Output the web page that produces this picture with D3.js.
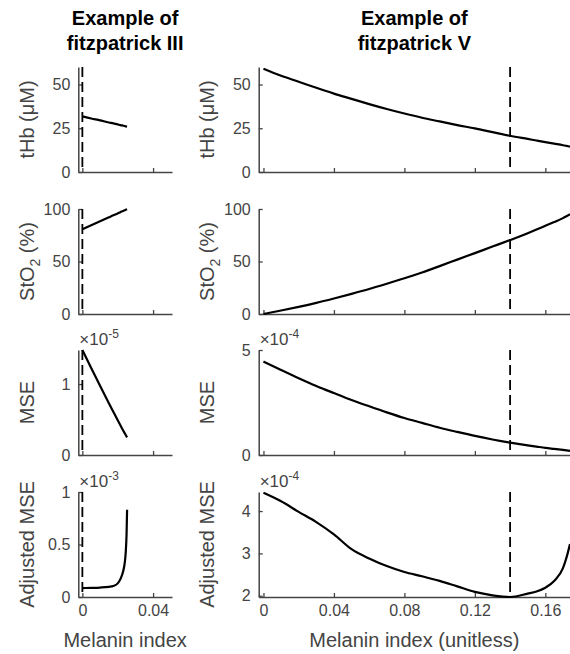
<!DOCTYPE html>
<html>
<head>
<meta charset="utf-8">
<script src="https://cdn.jsdelivr.net/npm/d3@7"></script>
<style>
  body { margin: 0; background: #fff; }
  svg { display: block; }
  text { font-family: "Liberation Sans", Arial, Helvetica, sans-serif; }
</style>
</head>
<body>
<div id="chart"></div>
<script>
// melanin index samples for each example
var melLeft  = [0, 0.005, 0.01, 0.015, 0.0175, 0.02, 0.0215, 0.023, 0.024, 0.0245, 0.025, 0.0253];
var melRight = [0, 0.01, 0.02, 0.03, 0.04, 0.05, 0.06, 0.07, 0.08, 0.09, 0.1, 0.11, 0.12, 0.13, 0.14,
                0.15, 0.155, 0.16, 0.165, 0.17, 0.172, 0.174];

// fitzpatrick III
var thbLeft  = [31.8, 30.6, 29.5, 28.3, 27.8, 27.2, 26.8, 26.5, 26.3, 26.1, 26.0, 25.95];
var sto2Left = [80.7, 84.5, 88.3, 92.1, 94.0, 95.8, 97.0, 98.1, 98.9, 99.3, 99.6, 99.8];
var mseLeft  = [1.48, 1.225, 0.975, 0.73, 0.61, 0.49, 0.42, 0.35, 0.305, 0.283, 0.261, 0.248]; // x1e-5
var adjLeft  = [0.085, 0.087, 0.09, 0.097, 0.105, 0.13, 0.17, 0.24, 0.33, 0.42, 0.6, 0.83];   // x1e-3

// fitzpatrick V
var thbRight  = [59.0, 55.0, 51.6, 48.1, 44.8, 41.8, 38.8, 36.0, 33.4, 31.0, 28.9, 26.8, 24.9, 22.8, 20.7,
                 18.9, 18.0, 17.1, 16.2, 15.3, 14.9, 14.5];
var sto2Right = [0, 3.3, 6.8, 10.6, 14.8, 19.2, 23.8, 28.8, 34.0, 39.6, 45.6, 51.8, 58.0, 64.2, 70.4,
                 76.9, 80.4, 84.0, 87.6, 91.3, 93.1, 95.0];
var mseRight  = [4.45, 4.05, 3.66, 3.29, 2.95, 2.62, 2.32, 2.03, 1.76, 1.53, 1.30, 1.10, 0.91, 0.74, 0.59,
                 0.46, 0.40, 0.34, 0.29, 0.24, 0.22, 0.20];                                  // x1e-4
var adjRight  = [4.43, 4.23, 3.98, 3.74, 3.45, 3.10, 2.88, 2.70, 2.56, 2.46, 2.35, 2.22, 2.09, 2.01, 1.97,
                 2.05, 2.10, 2.19, 2.35, 2.65, 2.90, 3.22];                                  // x1e-4

var dashLeft = 0, dashRight = 0.14;

var xTicksLeft = [0, 0.04], xTickLabelsLeft = ["0", "0.04"];
var xTicksRight = [0, 0.04, 0.08, 0.12, 0.16], xTickLabelsRight = ["0", "0.04", "0.08", "0.12", "0.16"];

var W = 570, H = 654;
var rowTop = [67, 209, 350, 492], rowH = 105;
var axisCol = "#444";

var svg = d3.select("#chart").append("svg")
  .attr("width", W).attr("height", H);

var cols = [
  {
    x0: 78.3, x1: 172, dom: [-0.0023, 0.0507], mel: melLeft, dash: dashLeft,
    ticks: xTicksLeft, tickLabels: xTickLabelsLeft, labelX: 27,
    title: ["Example of", "fitzpatrick III"], xlabel: "Melanin index",
    rows: [
      {vals: thbLeft, dom: [0, 60], ticks: [0, 25, 50]},
      {vals: sto2Left, dom: [0, 100], ticks: [0, 50, 100]},
      {vals: mseLeft, dom: [0, 1.48], ticks: [0, 1], exp: "-5"},
      {vals: adjLeft, dom: [0, 1], ticks: [0, 0.5, 1], exp: "-3"}
    ]
  },
  {
    x0: 258.7, x1: 570, dom: [-0.0027, 0.174], mel: melRight, dash: dashRight,
    ticks: xTicksRight, tickLabels: xTickLabelsRight, labelX: 207,
    title: ["Example of", "fitzpatrick V"], xlabel: "Melanin index (unitless)",
    rows: [
      {vals: thbRight, dom: [0, 60], ticks: [0, 25, 50]},
      {vals: sto2Right, dom: [0, 100], ticks: [0, 50, 100]},
      {vals: mseRight, dom: [0, 5], ticks: [0, 5], exp: "-4"},
      {vals: adjRight, dom: [1.97, 4.45], ticks: [2, 3, 4], exp: "-4"}
    ]
  }
];

var yLabels = ["tHb (\u03bcM)", "StO2 (%)", "MSE", "Adjusted MSE"];

cols.forEach(function(c) {
  var x = d3.scaleLinear().domain(c.dom).range([c.x0, c.x1]);

  // two line bold title
  svg.append("text")
    .attr("x", (c.x0 + c.x1) / 2).attr("y", 25)
    .attr("text-anchor", "middle")
    .attr("font-size", 20).attr("font-weight", "bold").attr("fill", "#000")
    .text(c.title[0]);
  svg.append("text")
    .attr("x", (c.x0 + c.x1) / 2).attr("y", 50)
    .attr("text-anchor", "middle")
    .attr("font-size", 20).attr("font-weight", "bold").attr("fill", "#000")
    .text(c.title[1]);

  c.rows.forEach(function(r, i) {
    var top = rowTop[i], bottom = top + rowH;
    var y = d3.scaleLinear().domain(r.dom).range([bottom, top]);
    var last = i === c.rows.length - 1;

    var xAxis = d3.axisBottom(x)
      .tickValues(c.ticks)
      .tickFormat(function(d, j) { return last ? c.tickLabels[j] : ""; })
      .tickSize(-4).tickSizeOuter(0).tickPadding(8);
    var yAxis = d3.axisLeft(y)
      .tickValues(r.ticks)
      .tickFormat(d3.format("~g"))
      .tickSize(-4).tickSizeOuter(0).tickPadding(8);

    var gx = svg.append("g")
      .attr("transform", "translate(0," + bottom + ")")
      .call(xAxis);
    var gy = svg.append("g")
      .attr("transform", "translate(" + c.x0 + ",0)")
      .call(yAxis);
    [gx, gy].forEach(function(g) {
      g.select(".domain").attr("stroke", axisCol).attr("stroke-width", 1.5);
      g.selectAll(".tick line").attr("stroke", axisCol).attr("stroke-width", 1.3);
      g.selectAll(".tick text")
        .attr("fill", axisCol).attr("font-size", 16)
        .attr("font-family", "Liberation Sans, Arial, sans-serif");
    });

    // dashed marker of the chosen melanin index
    svg.append("line")
      .attr("x1", x(c.dash)).attr("x2", x(c.dash))
      .attr("y1", top).attr("y2", bottom)
      .attr("stroke", "#000").attr("stroke-width", 1.8)
      .attr("stroke-dasharray", "10,5");

    var line = d3.line()
      .x(function(d, j) { return x(c.mel[j]); })
      .y(function(d) { return y(d); })
      .curve(d3.curveMonotoneX);

    svg.append("path")
      .datum(r.vals)
      .attr("fill", "none")
      .attr("stroke", "#000")
      .attr("stroke-width", 2.2)
      .attr("stroke-linejoin", "round")
      .attr("d", line);

    // exponent label like "x10^-5"
    if (r.exp) {
      var t = svg.append("text")
        .attr("x", c.x0 + 1).attr("y", top - 5)
        .attr("font-size", 17).attr("fill", axisCol);
      t.append("tspan").text("\u00d710");
      t.append("tspan").attr("dy", -7).attr("font-size", 12).text(r.exp);
    }

    // y label
    var lab = svg.append("text")
      .attr("transform", "translate(" + c.labelX + "," + (top + rowH / 2) + ") rotate(-90)")
      .attr("text-anchor", "middle")
      .attr("dy", "0.35em")
      .attr("font-size", 20).attr("fill", axisCol);
    if (i === 1) {
      lab.append("tspan").text("StO");
      lab.append("tspan").attr("dy", 6).attr("font-size", 14).text("2");
      lab.append("tspan").attr("dy", -6).text(" (%)");
    } else {
      lab.text(yLabels[i]);
    }
  });

  svg.append("text")
    .attr("x", (c.x0 + c.x1) / 2).attr("y", 647)
    .attr("text-anchor", "middle")
    .attr("font-size", 20).attr("fill", axisCol)
    .text(c.xlabel);
});
</script>
</body>
</html>
